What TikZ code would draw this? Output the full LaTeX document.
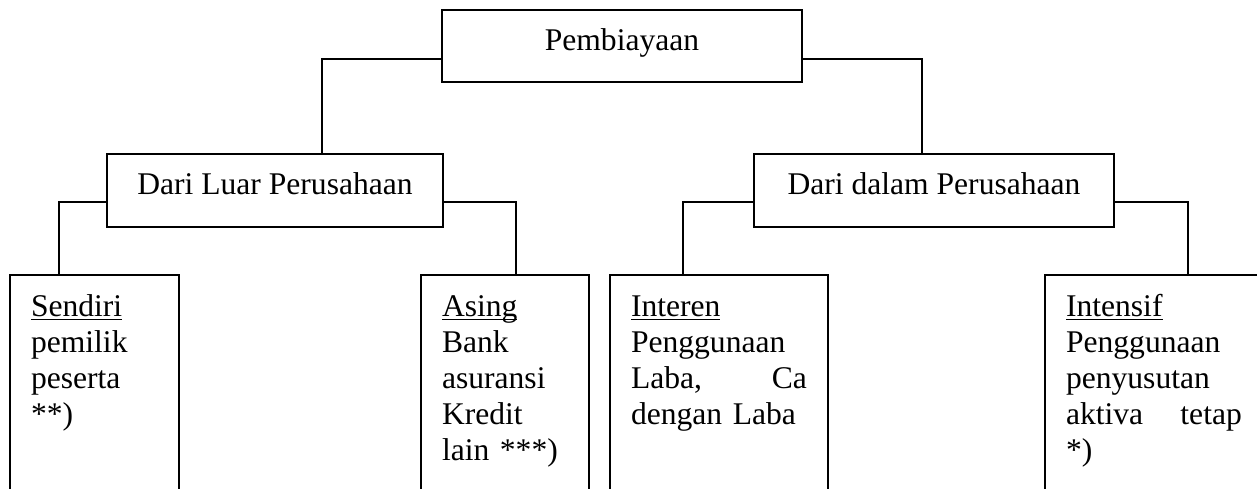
\documentclass[tikz,border=0pt]{standalone}
\usepackage{fontspec}
\setmainfont{Liberation Serif}
\usetikzlibrary{calc}
\newcommand{\ukuran}{\fontsize{12pt}{13.7pt}\selectfont}
\newcommand{\garisbawah}[1]{\setbox0\hbox{#1}\rlap{\rule[-1.4pt]{\wd0}{0.45pt}}\box0}
\tikzset{
  kotak/.style={draw, line width=0.75pt, inner sep=0pt, font=\ukuran, text height=7pt, text depth=3.6pt},
  kolom/.style={draw, line width=0.75pt, anchor=north west, align=left, inner xsep=8pt, inner ysep=0pt, text height=15.6pt, text depth=75pt, font=\ukuran, text width=#1},
  garis/.style={line width=0.75pt}
}

\begin{document}
\begin{tikzpicture}[x=0.38pt,y=0.38pt,yscale=-1,xscale=1]
\useasboundingbox (0,0) rectangle (1257,488);
\clip (0,0) rectangle (1257,488);

%Shape: Rectangle (top)
\draw (622,46) node [kotak, minimum width=136.8pt, minimum height=27.4pt] (pembiayaan) {Pembiayaan};
%Shape: Rectangle (second level)
\draw (275,190.5) node [kotak, minimum width=127.7pt, minimum height=27.7pt] (luar) {Dari Luar Perusahaan};
\draw (934,190.5) node [kotak, minimum width=136.8pt, minimum height=27.7pt] (dalam) {Dari dalam Perusahaan};

%Shape: Rectangle (third level)
\draw (9,274) node [kolom=48.2pt] (sendiri) {\garisbawah{Sendiri}\\ pemilik\\ peserta\\ {}**)};
\draw (420,274) node [kolom=47.8pt] (asing) {\garisbawah{Asing}\\ Bank\\ asuransi\\ Kredit\\ lain ***)};
\draw (609,274) node [kolom=66.8pt] (interen) {\garisbawah{Interen}\\ Penggunaan\\ Laba,\hfill Ca\\ dengan Laba};
\draw (1044,274) node [kolom=66.8pt] (intensif) {\garisbawah{Intensif}\\ Penggunaan\\ penyusutan\\ aktiva\hfill tetap\\ {}*)};

%Connector: top to second level
\draw [garis] ($(pembiayaan.south west)!0.33!(pembiayaan.north west)$) -| ($(luar.north west)!0.64!(luar.north east)$);
\draw [garis] ($(pembiayaan.south east)!0.33!(pembiayaan.north east)$) -| ($(dalam.north west)!0.467!(dalam.north east)$);
%Connector: second level to third level
\draw [garis] ($(luar.south west)!0.34!(luar.north west)$) -| ($(sendiri.north west)!0.29!(sendiri.north east)$);
\draw [garis] ($(luar.south east)!0.34!(luar.north east)$) -| ($(asing.north west)!0.565!(asing.north east)$);
\draw [garis] ($(dalam.south west)!0.34!(dalam.north west)$) -| ($(interen.north west)!0.335!(interen.north east)$);
\draw [garis] ($(dalam.south east)!0.34!(dalam.north east)$) -| ($(intensif.north west)!0.656!(intensif.north east)$);

\end{tikzpicture}
\end{document}
